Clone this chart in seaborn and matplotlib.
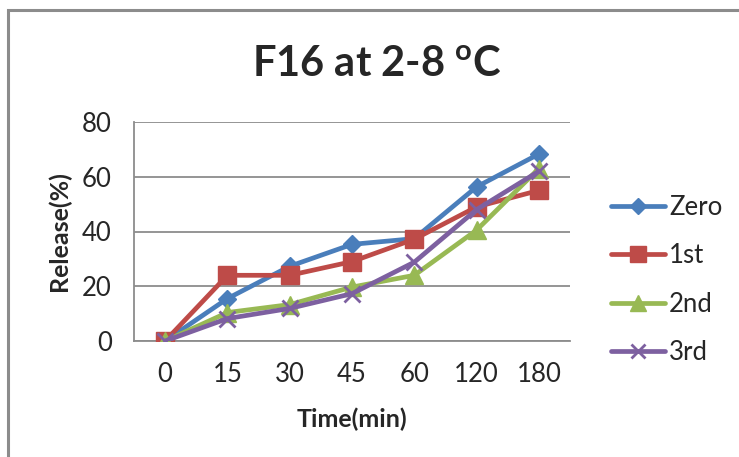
import matplotlib
matplotlib.use("Agg")
import matplotlib.pyplot as plt
import seaborn as sns
import pandas as pd
from matplotlib.patches import Rectangle
from matplotlib.lines import Line2D
from matplotlib.ticker import FixedLocator

# ---- data ----
time_labels = ["0", "15", "30", "45", "60", "120", "180"]
zero = [0, 15.5, 27.3, 35.3, 37.4, 56.3, 68.3]
first = [0, 24.0, 24.0, 29.0, 37.2, 49.0, 55.0]
second = [0, 10.4, 13.3, 19.7, 24.0, 40.5, 63.0]
third = [0, 8.2, 11.9, 17.3, 28.8, 48.0, 62.0]
series_names = ["Zero", "1st", "2nd", "3rd"]
series_values = [zero, first, second, third]
title = r"F16 at 2-8 $\mathbf{{}^{o}}$C"
y_ticks = [0, 20, 40, 60, 80]

colors = ["#4A7EBB", "#BE4B48", "#98B954", "#7D60A0"]
markers = ["D", "s", "^", "x"]
msizes = [9.5, 13, 13.5, 11.5]

rows = []
for name, vals in zip(series_names, series_values):
    for i, (t, v) in enumerate(zip(time_labels, vals)):
        rows.append({"Series": name, "Time": t, "pos": i, "Release": v})
df = pd.DataFrame(rows)

sns.set_theme(style="white")
FONT = ["Lato", "DejaVu Sans"]
plt.rcParams["font.family"] = FONT
plt.rcParams["mathtext.fontset"] = "custom"
plt.rcParams["mathtext.rm"] = "Lato"
plt.rcParams["mathtext.bf"] = "Lato:bold"

fig = plt.figure(figsize=(7.39, 4.57), dpi=100)
ax = fig.add_axes([134 / 739, 1 - 341 / 457, 436 / 739, 219 / 457])

for name, c, m, ms in zip(series_names, colors, markers, msizes):
    sub = df[df["Series"] == name]
    sns.lineplot(data=sub, x="pos", y="Release", ax=ax, color=c, marker=m,
                 markersize=ms, linewidth=3.4, markeredgecolor=c,
                 markeredgewidth=2 if m == "x" else 1, legend=False, zorder=3)

grid_c = "#8C8C8C"
ax.set_xlim(-0.5, len(time_labels) - 0.5)
ax.set_ylim(0, 80)
ax.set_yticks(y_ticks)
ax.set_yticklabels([str(v) for v in y_ticks], fontsize=18.5)
ax.set_xticks(range(len(time_labels)))
ax.set_xticklabels(time_labels, fontsize=18.5)
ax.xaxis.set_minor_locator(FixedLocator([i + 0.5 for i in range(-1, len(time_labels))]))
ax.tick_params(axis="x", which="major", length=0, pad=15)
ax.tick_params(axis="x", which="minor", length=8, width=1.3, color=grid_c, direction="out")
ax.tick_params(axis="y", which="major", length=8, width=1.3, color=grid_c, direction="out", pad=8)
ax.yaxis.grid(True, color=grid_c, linewidth=1.3)
ax.xaxis.grid(False)
for s in ["top", "right"]:
    ax.spines[s].set_visible(False)
for s in ["left", "bottom"]:
    ax.spines[s].set_color(grid_c)
    ax.spines[s].set_linewidth(1.3)
    ax.spines[s].set_zorder(2)

ax.set_xlabel("Time(min)", fontsize=18, fontweight="bold", labelpad=15)
ax.set_ylabel("Release(%)", fontsize=18, fontweight="bold", labelpad=8)

fig.suptitle(title, x=377 / 739, y=1 - 64 / 457, fontsize=30, fontweight="bold",
             va="center")

handles = [Line2D([0], [0], color=c, marker=m, markersize=ms * 0.85, linewidth=3.4,
                  markeredgecolor=c, markeredgewidth=2 if m == "x" else 1)
           for c, m, ms in zip(colors, markers, msizes)]
leg = fig.legend(handles, series_names, loc="center left",
                 bbox_to_anchor=(588 / 739, 1 - 280 / 457), frameon=False,
                 fontsize=18.5, handlelength=2.1, handletextpad=0.15, labelspacing=0.92)

fig.patches.append(Rectangle((8 / 739, -0.1), 1.2, 1 - 10 / 457 + 0.1,
                             transform=fig.transFigure, fill=False,
                             edgecolor="#8C8C8C", linewidth=2.2))

fig.savefig("out.png", dpi=100)
